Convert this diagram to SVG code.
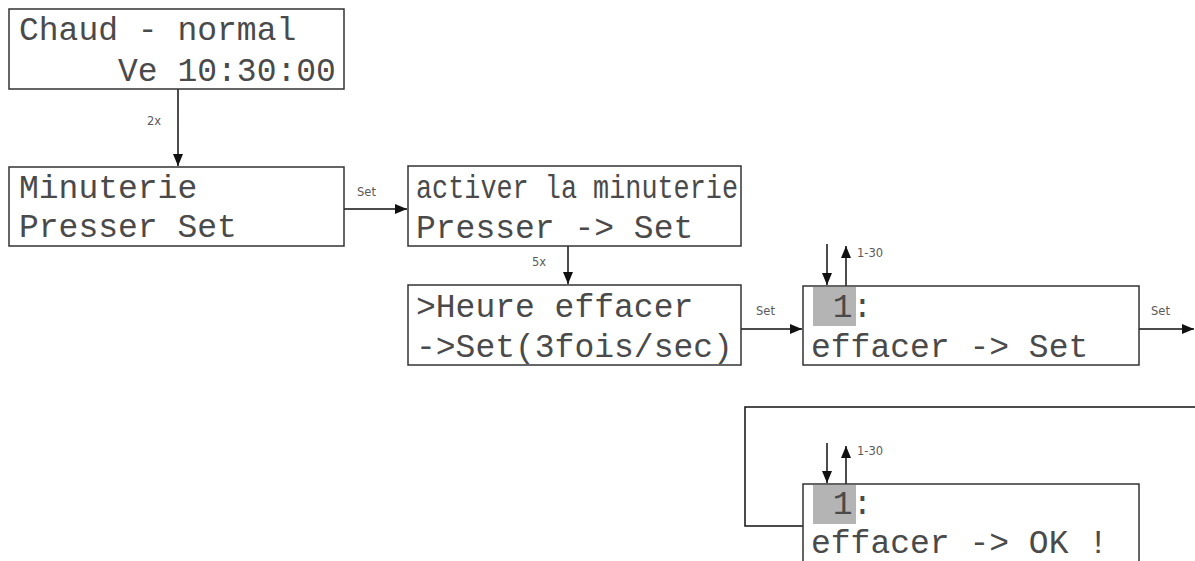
<svg xmlns="http://www.w3.org/2000/svg" width="1195" height="561" viewBox="0 0 1195 561">
  <style>
    .box { fill: #ffffff; stroke: #333333; stroke-width: 1.5; }
    .lcd { font-family: "Liberation Mono", "DejaVu Sans Mono", monospace; font-size: 33px; fill: #4a4a4a; }
    .lbl { font-family: "DejaVu Sans", "Liberation Sans", sans-serif; font-size: 11.5px; fill: #5a5a5a; }
    .wire { fill: none; stroke: #111111; stroke-width: 1.5; }
    .sel { fill: #b4b4b4; }
  </style>
  <defs>
    <marker id="arrow" viewBox="0 0 12 10" refX="12" refY="5" markerWidth="12" markerHeight="10" markerUnits="userSpaceOnUse" orient="auto">
      <path d="M0,0 L12,5 L0,10 Z" fill="#111111"/>
    </marker>
  </defs>
  <rect width="1195" height="561" fill="#ffffff"/>

  <!-- connectors -->
  <g id="connectors">
    <line class="wire" x1="178" y1="89" x2="178" y2="166" marker-end="url(#arrow)"/>
    <text class="lbl" x="147" y="125">2x</text>

    <line class="wire" x1="344" y1="209" x2="407" y2="209" marker-end="url(#arrow)"/>
    <text class="lbl" x="357" y="196">Set</text>

    <line class="wire" x1="568" y1="246" x2="568" y2="284" marker-end="url(#arrow)"/>
    <text class="lbl" x="532" y="266">5x</text>

    <line class="wire" x1="741" y1="329" x2="802" y2="329" marker-end="url(#arrow)"/>
    <text class="lbl" x="756" y="315">Set</text>

    <line class="wire" x1="1139" y1="329" x2="1194" y2="329" marker-end="url(#arrow)"/>
    <text class="lbl" x="1151" y="315">Set</text>

    <!-- value selection arrows, first edit screen -->
    <line class="wire" x1="827" y1="244" x2="827" y2="285" marker-end="url(#arrow)"/>
    <line class="wire" x1="846" y1="286" x2="846" y2="246" marker-end="url(#arrow)"/>
    <text class="lbl" x="857" y="257">1-30</text>

    <!-- return path into the confirmation screen -->
    <polyline class="wire" points="1195,407 745,407 745,526 803,526"/>

    <!-- value selection arrows, confirmation screen -->
    <line class="wire" x1="827" y1="443" x2="827" y2="483" marker-end="url(#arrow)"/>
    <line class="wire" x1="846" y1="484" x2="846" y2="446" marker-end="url(#arrow)"/>
    <text class="lbl" x="857" y="455">1-30</text>
  </g>

  <g id="screen-home">
    <rect class="box" x="9" y="9" width="335" height="80"/>
    <text class="lcd" x="19" y="40" xml:space="preserve">Chaud - normal</text>
    <text class="lcd" x="19" y="81" xml:space="preserve">     Ve 10:30:00</text>
  </g>

  <g id="screen-timer">
    <rect class="box" x="9" y="167" width="335" height="79"/>
    <text class="lcd" x="19" y="198">Minuterie</text>
    <text class="lcd" x="19" y="237">Presser Set</text>
  </g>

  <g id="screen-activate">
    <rect class="box" x="408" y="166" width="333" height="80"/>
    <text class="lcd" x="416" y="198" textLength="322" lengthAdjust="spacingAndGlyphs">activer la minuterie</text>
    <text class="lcd" x="416" y="238">Presser -&gt; Set</text>
  </g>

  <g id="screen-clear-time">
    <rect class="box" x="408" y="285" width="333" height="80"/>
    <text class="lcd" x="416" y="317">&gt;Heure effacer</text>
    <text class="lcd" x="416" y="357">-&gt;Set(3fois/sec)</text>
  </g>

  <g id="screen-select">
    <rect class="box" x="803" y="286" width="336" height="79"/>
    <rect class="sel" x="813" y="287" width="43" height="39"/>
    <text class="lcd" x="813" y="317" xml:space="preserve"> 1:</text>
    <text class="lcd" x="811" y="357">effacer -&gt; Set</text>
  </g>

  <g id="screen-confirm">
    <rect class="box" x="803" y="484" width="336" height="90"/>
    <rect class="sel" x="813" y="485" width="43" height="39"/>
    <text class="lcd" x="813" y="514" xml:space="preserve"> 1:</text>
    <text class="lcd" x="811" y="553">effacer -&gt; OK !</text>
  </g>
</svg>
